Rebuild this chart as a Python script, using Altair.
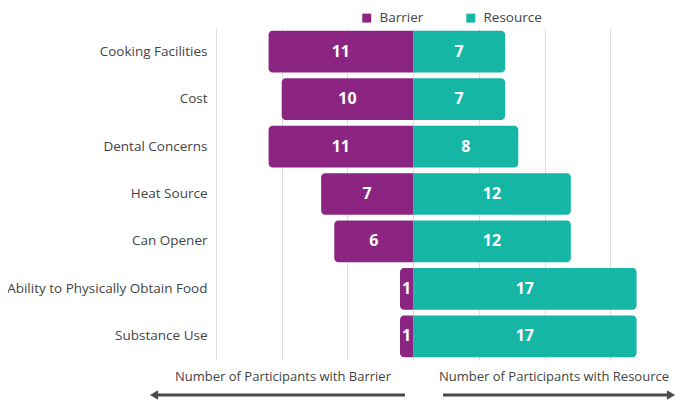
import altair as alt
import pandas as pd

categories = ["Cooking Facilities", "Cost", "Dental Concerns", "Heat Source",
              "Can Opener", "Ability to Physically Obtain Food", "Substance Use"]
barrier = [11, 10, 11, 7, 6, 1, 1]
resource = [7, 7, 8, 12, 12, 17, 17]
series = ["Barrier", "Resource"]
colors = ["#8B2581", "#16B6A7"]
grid_values = [-15, -10, -5, 0, 5, 10, 15, 20]
axis_titles = ["Number of Participants with Barrier", "Number of Participants with Resource"]

rows = []
for c, b, r in zip(categories, barrier, resource):
    rows.append({"category": c, "series": "Barrier", "count": b, "signed": -b})
    rows.append({"category": c, "series": "Resource", "count": r, "signed": r})
df = pd.DataFrame(rows)

FONT = "Open Sans"
W, H = 460, 332

xscale = alt.Scale(domain=[-15, 20], nice=False, zero=False)
yscale = alt.Scale(domain=categories, paddingInner=0.12, paddingOuter=0.06)
color = alt.Color("series:N", scale=alt.Scale(domain=series, range=colors),
                  legend=alt.Legend(title=None, orient="none", direction="horizontal",
                                    legendX=144, legendY=-17, symbolType="square",
                                    symbolSize=80, symbolStrokeWidth=0, labelFont=FONT,
                                    labelFontSize=13.5, labelColor="#444",
                                    columnPadding=40, labelOffset=6))

xaxis = alt.Axis(values=grid_values, labels=False, ticks=False, domain=False,
                 title=None, grid=True, gridColor="#dddddd", gridWidth=1)
yaxis = alt.Axis(title=None, ticks=False, domain=False, labelFont=FONT,
                 labelFontSize=13.5, labelColor="#444", labelPadding=9, labelLimit=260)

base = alt.Chart(df)

bars_b = base.transform_filter(alt.datum.series == "Barrier").mark_bar(
    cornerRadiusTopLeft=4, cornerRadiusBottomLeft=4).encode(
    x=alt.X("signed:Q", scale=xscale, axis=xaxis),
    x2=alt.datum(0),
    y=alt.Y("category:N", scale=yscale, axis=yaxis, sort=categories),
    color=color,
)
bars_r = base.transform_filter(alt.datum.series == "Resource").mark_bar(
    cornerRadiusTopRight=4, cornerRadiusBottomRight=4).encode(
    x=alt.X("signed:Q", scale=xscale, axis=xaxis),
    x2=alt.datum(0),
    y=alt.Y("category:N", scale=yscale, axis=yaxis, sort=categories),
    color=color,
)
labels = base.transform_calculate(mid="datum.signed / 2").mark_text(
    font=FONT, fontSize=16, fontWeight="bold", color="white").encode(
    x=alt.X("mid:Q", scale=xscale),
    y=alt.Y("category:N", scale=yscale, sort=categories),
    text="count:Q",
)

tdf = pd.DataFrame({"t": axis_titles, "px": [67, 338]})
titles = alt.Chart(tdf).mark_text(font=FONT, fontSize=13, color="#444").encode(
    x=alt.X("px:Q", scale=None), y=alt.value(349), text="t:N")

AY = 367
arrow_left = alt.Chart(pd.DataFrame({"a": [0]})).mark_rule(color="#4a4a4a", strokeWidth=3).encode(
    x=alt.value(189), x2=alt.value(-60), y=alt.value(AY))
arrow_right = alt.Chart(pd.DataFrame({"a": [0]})).mark_rule(color="#4a4a4a", strokeWidth=3).encode(
    x=alt.value(227), x2=alt.value(454), y=alt.value(AY))
head_left = alt.Chart(pd.DataFrame({"a": [0]})).mark_point(
    shape="triangle-left", filled=True, color="#4a4a4a", size=90, opacity=1).encode(
    x=alt.value(-62), y=alt.value(AY))
head_right = alt.Chart(pd.DataFrame({"a": [0]})).mark_point(
    shape="triangle-right", filled=True, color="#4a4a4a", size=90, opacity=1).encode(
    x=alt.value(455), y=alt.value(AY))

chart = alt.layer(bars_b, bars_r, labels, titles, arrow_left, arrow_right,
                  head_left, head_right).properties(
    width=W, height=H,
    autosize=alt.AutoSizeParams(type="none"),
    padding={"left": 208, "top": 20, "right": 0, "bottom": 40},
).configure_view(stroke=None)

chart.save("out.html", embed_options={"renderer": "svg", "actions": False})
